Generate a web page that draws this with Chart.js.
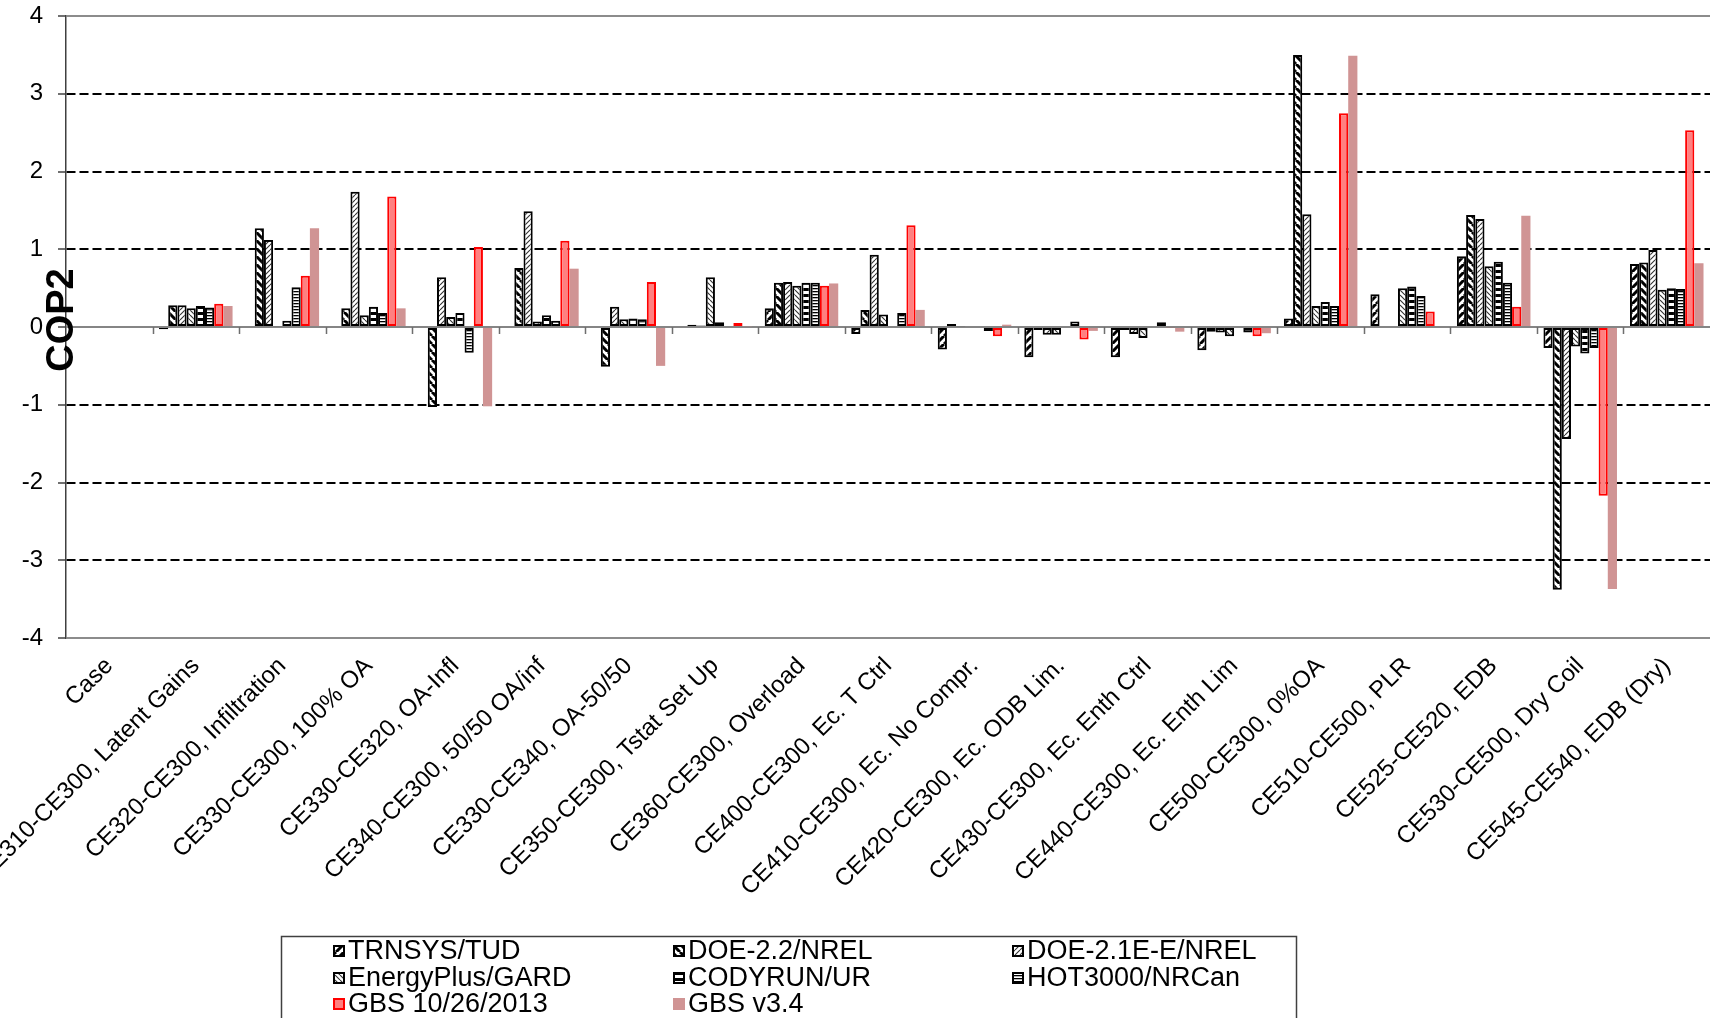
<!DOCTYPE html>
<html>
<head>
<meta charset="utf-8">
<title>COP2</title>
<script src="https://cdn.jsdelivr.net/npm/chart.js@4.4.0/dist/chart.umd.min.js"></script>
<style>
  html, body { margin: 0; padding: 0; background: #fff; overflow: hidden; }
  canvas { display: block; }
</style>
</head>
<body>
<canvas id="myChart" width="1710" height="1018"></canvas>
<script>
// cases (first slot is the "Case" heading, no bars)
var categories = [
    'Case',
    'CE310-CE300, Latent Gains',
    'CE320-CE300, Infiltration',
    'CE330-CE300, 100% OA',
    'CE330-CE320, OA-Infl',
    'CE340-CE300, 50/50 OA/inf',
    'CE330-CE340, OA-50/50',
    'CE350-CE300, Tstat Set Up',
    'CE360-CE300, Overload',
    'CE400-CE300, Ec. T Ctrl',
    'CE410-CE300, Ec. No Compr.',
    'CE420-CE300, Ec. ODB Lim.',
    'CE430-CE300, Ec. Enth Ctrl',
    'CE440-CE300, Ec. Enth Lim',
    'CE500-CE300, 0%OA',
    'CE510-CE500, PLR',
    'CE525-CE520, EDB',
    'CE530-CE500, Dry Coil',
    'CE545-CE540, EDB (Dry)'
];

var seriesNames = ['TRNSYS/TUD', 'DOE-2.2/NREL', 'DOE-2.1E-E/NREL',
    'EnergyPlus/GARD', 'CODYRUN/UR', 'HOT3000/NRCan', 'GBS 10/26/2013', 'GBS v3.4'];

var trnsys  = [null, -0.03, null, null, null, null, null, null, 0.24, -0.09, -0.29, -0.39, -0.39, -0.30, 0.11, 0.42, 0.91, -0.27, 0.81];
var doe22   = [null, 0.28, 1.27, 0.24, -1.03, 0.76, -0.51, 0.03, 0.57, 0.22, 0.04, -0.04, -0.04, -0.06, 3.50, null, 1.44, -3.38, 0.83];
var doe21e  = [null, 0.28, 1.12, 1.74, 0.64, 1.49, 0.26, 0.02, 0.58, 0.93, 0.01, -0.10, -0.09, -0.07, 1.45, null, 1.39, -1.44, 0.99];
var eplus   = [null, 0.24, 0.01, 0.15, 0.13, 0.07, 0.10, 0.64, 0.53, 0.16, null, -0.10, -0.14, -0.12, 0.27, 0.50, 0.78, -0.25, 0.48];
var codyrun = [null, 0.27, 0.08, 0.26, 0.18, 0.15, 0.11, 0.06, 0.57, null, null, null, null, null, 0.32, 0.52, 0.84, -0.34, 0.50];
var hot3000 = [null, 0.25, 0.51, 0.18, -0.33, 0.08, 0.10, 0.00, 0.57, 0.18, -0.05, 0.07, 0.06, -0.07, 0.27, 0.40, 0.57, -0.27, 0.49];
var gbs2013 = [null, 0.30, 0.66, 1.68, 1.03, 1.11, 0.58, 0.05, 0.53, 1.31, -0.12, -0.16, -0.01, -0.12, 2.75, 0.20, 0.26, -2.17, 2.53];
var gbsV34  = [null, 0.27, 1.27, 0.24, -1.02, 0.75, -0.50, 0.01, 0.56, 0.22, 0.03, -0.05, -0.06, -0.08, 3.49, null, 1.43, -3.37, 0.82];

Chart.defaults.font.family = '"Liberation Sans", Arial, sans-serif';
Chart.defaults.color = '#000';

var ctx = document.getElementById('myChart');
var g2d = ctx.getContext('2d');

// hatch fills
function pattern(w, h, draw) {
    var c = document.createElement('canvas');
    c.width = w;
    c.height = h;
    var p = c.getContext('2d');
    p.fillStyle = '#fff';
    p.fillRect(0, 0, w, h);
    p.strokeStyle = '#000';
    p.fillStyle = '#000';
    draw(p, w, h);
    return g2d.createPattern(c, 'repeat');
}
function diag(p, s, up) {
    p.beginPath();
    for (var k = -1; k <= 1; k++) {
        if (up) { p.moveTo(k * s, s); p.lineTo(k * s + s, 0); }
        else { p.moveTo(k * s, 0); p.lineTo(k * s + s, s); }
    }
    p.stroke();
}
var fillTrnsys = pattern(8, 8, function (p) { p.lineWidth = 3; diag(p, 8, true); });
var fillDoe22 = pattern(8, 8, function (p) { p.lineWidth = 3; diag(p, 8, false); });
var fillDoe21 = pattern(5, 5, function (p) { p.lineWidth = 1.1; p.strokeStyle = '#333'; diag(p, 5, true); });
var fillEplus = pattern(5, 5, function (p) { p.lineWidth = 1.1; p.strokeStyle = '#333'; diag(p, 5, false); });
var fillCody = pattern(4, 6, function (p) { p.fillRect(0, 0, 4, 3); });
var fillHot = pattern(4, 3, function (p) { p.fillRect(0, 0, 4, 1.3); });

// tick marks on the zero line between cases
var zeroTicks = {
    id: 'zeroTicks',
    beforeDatasetsDraw: function (chart) {
        var xs = chart.scales.x, ys = chart.scales.y;
        var y0 = ys.getPixelForValue(0);
        var c = chart.ctx;
        c.save();
        c.strokeStyle = '#6e6e6e';
        c.lineWidth = 1.5;
        c.beginPath();
        for (var i = 1; i < categories.length; i++) {
            var bx = Math.round((xs.getPixelForValue(i - 1) + xs.getPixelForValue(i)) / 2) + 0.5;
            c.moveTo(bx, y0);
            c.lineTo(bx, y0 + 7);
        }
        c.stroke();
        c.restore();
    }
};

// axis title over the axis line + boxed legend at the bottom
var extras = {
    id: 'extras',
    afterDraw: function (chart) {
        var c = chart.ctx;
        c.save();
        c.translate(63, 320);
        c.rotate(-Math.PI / 2);
        c.font = 'bold 38px "Liberation Sans", Arial, sans-serif';
        c.fillStyle = '#000';
        c.textAlign = 'center';
        c.textBaseline = 'middle';
        c.fillText('COP2', 0, 0);
        c.restore();

        c.save();
        c.strokeStyle = '#404040';
        c.lineWidth = 1.5;
        c.strokeRect(281.5, 936.5, 1015, 120);
        c.font = '27px "Liberation Sans", Arial, sans-serif';
        c.textBaseline = 'middle';
        var cols = [333, 673, 1012];
        var rows = [951, 978, 1004];
        chart.data.datasets.forEach(function (ds, i) {
            var x = cols[i % 3], y = rows[Math.floor(i / 3)];
            c.fillStyle = ds.backgroundColor;
            c.fillRect(x, y - 6, 12, 12);
            if (ds.borderWidth) {
                c.strokeStyle = ds.borderColor;
                c.lineWidth = 2;
                c.strokeRect(x + 1, y - 5, 10, 10);
            }
            c.fillStyle = '#000';
            c.fillText(ds.label, x + 15, y + 1);
        });
        c.restore();
    }
};

function hatched(i, data, fill) {
    return { label: seriesNames[i], data: data, backgroundColor: fill, borderColor: '#000', borderWidth: 2 };
}

var chart = new Chart(ctx, {
    type: 'bar',
    data: {
        labels: categories,
        datasets: [
            hatched(0, trnsys, fillTrnsys),
            hatched(1, doe22, fillDoe22),
            hatched(2, doe21e, fillDoe21),
            hatched(3, eplus, fillEplus),
            hatched(4, codyrun, fillCody),
            hatched(5, hot3000, fillHot),
            { label: seriesNames[6], data: gbs2013, backgroundColor: '#ff8080', borderColor: '#ff0000', borderWidth: 2 },
            { label: seriesNames[7], data: gbsV34, backgroundColor: '#d09494', borderWidth: 0 }
        ]
    },
    plugins: [zeroTicks, extras],
    options: {
        responsive: false,
        animation: false,
        devicePixelRatio: 1,
        layout: { padding: { top: 16, left: 0, right: 0, bottom: 0 } },
        datasets: {
            bar: { categoryPercentage: 0.85, barPercentage: 1.0, borderSkipped: false }
        },
        plugins: {
            legend: { display: false },
            tooltip: { enabled: false }
        },
        scales: {
            x: {
                grid: { display: false, drawTicks: false },
                border: { display: false },
                ticks: {
                    autoSkip: false,
                    minRotation: 45,
                    maxRotation: 45,
                    padding: 14,
                    font: { size: 24 }
                },
                afterFit: function (s) { s.height = 380; s.paddingLeft = 0; s.paddingRight = 0; }
            },
            y: {
                min: -4,
                max: 4,
                ticks: { stepSize: 1, padding: 15, font: { size: 24 } },
                grid: {
                    lineWidth: 2,
                    color: function (c) {
                        var v = c.tick ? c.tick.value : 0;
                        if (v === 0) return '#858585';
                        if (Math.abs(v) === 4) return '#8c8c8c';
                        return '#000';
                    },
                    tickColor: '#404040',
                    tickLength: 8,
                    tickWidth: 1.5
                },
                border: {
                    color: '#404040',
                    width: 1.5,
                    dash: function (c) {
                        var v = c.tick ? c.tick.value : 0;
                        return (v === 0 || Math.abs(v) === 4) ? [] : [9, 4];
                    }
                },
                afterFit: function (s) { s.width = 66; s.paddingTop = 0; s.paddingBottom = 0; }
            }
        }
    }
});
</script>
</body>
</html>
